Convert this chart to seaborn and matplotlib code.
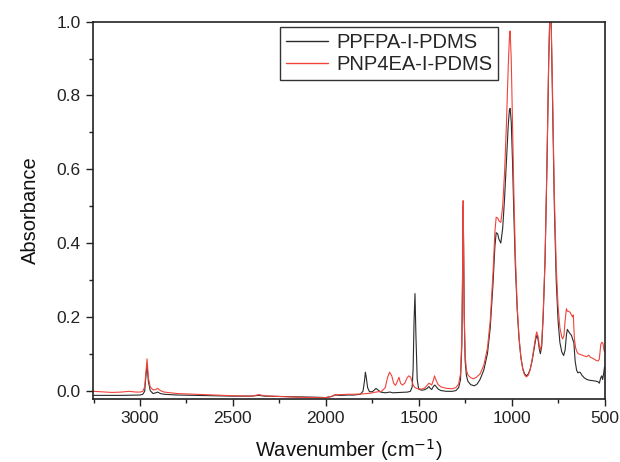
import matplotlib
matplotlib.use("Agg")
import matplotlib.pyplot as plt
import seaborn as sns
import pandas as pd
from matplotlib.ticker import MultipleLocator

# ---- data ----
wn_ppfpa = [3250, 3100, 3000, 2985, 2975, 2968, 2962, 2955, 2945, 2930, 2915, 2905, 2890, 2870,
            2800, 2700, 2600, 2500, 2400, 2360, 2330, 2250, 2150, 2050, 2000, 1970, 1950, 1920,
            1880, 1850, 1815, 1800, 1792, 1787, 1782, 1775, 1765, 1750, 1740, 1730, 1720, 1705,
            1680, 1655, 1640, 1600, 1560, 1545, 1535, 1530, 1525, 1520, 1515, 1508, 1500, 1485,
            1470, 1455, 1445, 1438, 1430, 1420, 1413, 1405, 1395, 1380, 1350, 1320, 1300, 1285,
            1275, 1268, 1264, 1261, 1258, 1255, 1250, 1243, 1235, 1220, 1200, 1185, 1170, 1150,
            1130, 1115, 1100, 1090, 1083, 1075, 1068, 1058, 1048, 1038, 1028, 1018, 1012, 1008,
            1002, 995, 988, 980, 970, 960, 950, 940, 930, 920, 910, 900, 890, 880, 870, 864, 858,
            850, 845, 838, 830, 820, 810, 800, 795, 791, 787, 780, 770, 760, 750, 740, 730, 720,
            712, 705, 700, 693, 685, 678, 672, 665, 658, 650, 643, 636, 630, 622, 610, 595, 580,
            565, 550, 535, 528, 520, 515, 510, 505, 500]
abs_ppfpa = [-0.013, -0.013, -0.012, -0.010, -0.002, 0.040, 0.070, 0.025, 0.000, -0.008, -0.006,
             -0.004, -0.008, -0.010, -0.012, -0.013, -0.014, -0.015, -0.015, -0.013, -0.015,
             -0.016, -0.017, -0.018, -0.019, -0.016, -0.012, -0.013, -0.012, -0.012, -0.010,
             -0.002, 0.025, 0.050, 0.035, 0.008, -0.003, -0.003, 0.001, 0.006, 0.002, -0.004,
             -0.006, -0.004, -0.006, -0.005, -0.004, -0.002, 0.010, 0.060, 0.190, 0.263, 0.150,
             0.030, 0.004, 0.001, 0.002, 0.006, 0.011, 0.006, 0.003, 0.012, 0.015, 0.010, 0.004,
             0.000, -0.002, -0.002, 0.000, 0.008, 0.030, 0.120, 0.300, 0.500, 0.380, 0.200,
             0.080, 0.040, 0.025, 0.016, 0.013, 0.018, 0.030, 0.055, 0.100, 0.170, 0.290, 0.390,
             0.428, 0.425, 0.410, 0.400, 0.440, 0.520, 0.620, 0.720, 0.760, 0.765, 0.730, 0.620,
             0.480, 0.340, 0.220, 0.140, 0.090, 0.060, 0.045, 0.040, 0.045, 0.058, 0.080, 0.110,
             0.140, 0.150, 0.140, 0.110, 0.100, 0.120, 0.200, 0.350, 0.600, 0.900, 1.000, 1.030,
             1.000, 0.800, 0.500, 0.300, 0.190, 0.130, 0.105, 0.095, 0.110, 0.150, 0.166, 0.160,
             0.154, 0.150, 0.140, 0.130, 0.080, 0.055, 0.048, 0.050, 0.049, 0.042, 0.035, 0.030,
             0.028, 0.027, 0.026, 0.024, 0.020, 0.035, 0.040, 0.030, 0.045, 0.064]

wn_pnp4ea = [3250, 3150, 3100, 3060, 3020, 3000, 2985, 2975, 2968, 2962, 2955, 2945, 2930, 2915,
             2905, 2890, 2870, 2800, 2700, 2600, 2500, 2400, 2360, 2330, 2250, 2150, 2050, 2000,
             1970, 1950, 1920, 1880, 1850, 1800, 1760, 1730, 1700, 1680, 1668, 1657, 1645, 1635,
             1625, 1615, 1606, 1598, 1588, 1575, 1562, 1553, 1543, 1530, 1520, 1505, 1485, 1470,
             1455, 1445, 1438, 1430, 1420, 1415, 1408, 1395, 1380, 1350, 1320, 1300, 1285, 1275,
             1268, 1264, 1261, 1258, 1255, 1250, 1243, 1235, 1220, 1206, 1190, 1170, 1150, 1130,
             1115, 1100, 1090, 1083, 1075, 1068, 1058, 1048, 1038, 1028, 1018, 1012, 1008, 1002,
             995, 988, 980, 970, 960, 950, 940, 930, 920, 910, 900, 890, 880, 870, 865, 858, 850,
             845, 838, 830, 820, 810, 800, 795, 791, 787, 780, 770, 760, 750, 740, 730, 725, 718,
             712, 705, 700, 693, 685, 678, 672, 668, 662, 655, 648, 641, 630, 620, 610, 595, 585,
             575, 565, 555, 545, 535, 528, 520, 514, 508, 503, 500]
abs_pnp4ea = [-0.002, -0.005, -0.004, -0.002, -0.004, -0.004, -0.002, 0.010, 0.050, 0.086, 0.035,
              0.010, 0.002, 0.003, 0.006, 0.000, -0.004, -0.008, -0.010, -0.012, -0.014, -0.015,
              -0.011, -0.014, -0.016, -0.018, -0.019, -0.019, -0.016, -0.011, -0.011, -0.010,
              -0.010, -0.009, -0.007, -0.004, -0.002, 0.008, 0.035, 0.050, 0.040, 0.020, 0.014,
              0.025, 0.036, 0.020, 0.015, 0.020, 0.035, 0.040, 0.036, 0.015, 0.008, 0.005, 0.004,
              0.006, 0.014, 0.020, 0.018, 0.015, 0.030, 0.040, 0.030, 0.016, 0.010, 0.006, 0.005,
              0.008, 0.018, 0.045, 0.140, 0.320, 0.515, 0.390, 0.210, 0.095, 0.055, 0.042, 0.035,
              0.032, 0.036, 0.045, 0.068, 0.115, 0.190, 0.320, 0.430, 0.470, 0.468, 0.460, 0.456,
              0.500, 0.590, 0.720, 0.880, 0.955, 0.975, 0.900, 0.720, 0.540, 0.370, 0.230, 0.145,
              0.090, 0.058, 0.042, 0.037, 0.042, 0.057, 0.082, 0.115, 0.148, 0.159, 0.148, 0.118,
              0.109, 0.128, 0.210, 0.360, 0.610, 0.910, 1.000, 1.030, 1.000, 0.820, 0.530, 0.340,
              0.230, 0.170, 0.145, 0.140, 0.150, 0.190, 0.222, 0.215, 0.215, 0.212, 0.205, 0.200,
              0.205, 0.140, 0.115, 0.105, 0.100, 0.098, 0.096, 0.094, 0.092, 0.096, 0.090, 0.088,
              0.085, 0.082, 0.080, 0.085, 0.125, 0.131, 0.128, 0.110, 0.106]

series_names = ["PPFPA-I-PDMS", "PNP4EA-I-PDMS"]
x_ticks = [3000, 2500, 2000, 1500, 1000, 500]
y_ticks = [0.0, 0.2, 0.4, 0.6, 0.8, 1.0]

df = pd.concat([
    pd.DataFrame({"wn": wn_ppfpa, "A": abs_ppfpa, "sample": series_names[0]}),
    pd.DataFrame({"wn": wn_pnp4ea, "A": abs_pnp4ea, "sample": series_names[1]}),
], ignore_index=True)

sns.set_theme(style="ticks")
plt.rcParams["font.family"] = ["Liberation Sans", "DejaVu Sans"]

fig = plt.figure(figsize=(6.2, 4.62), dpi=100)
ax = fig.add_axes([0.150, 0.137, 0.825, 0.816])

sns.lineplot(data=df, x="wn", y="A", hue="sample", hue_order=series_names,
             palette={series_names[0]: "#2b2b2b", series_names[1]: "#f0443a"},
             estimator=None, sort=True, linewidth=0.8, ax=ax, legend=True)

ax.set_xlim(3253, 500)
ax.set_ylim(-0.022, 1.0)
ax.set_xticks(x_ticks)
ax.set_yticks(y_ticks)
ax.set_yticklabels([f"{v:.1f}" for v in y_ticks])
ax.xaxis.set_minor_locator(MultipleLocator(250))
ax.yaxis.set_minor_locator(MultipleLocator(0.1))
ax.tick_params(axis="both", which="major", direction="out", length=5, width=1,
               labelsize=12.5, colors="#222222", pad=4)
ax.tick_params(axis="both", which="minor", direction="out", length=3, width=1, colors="#222222")
for s in ax.spines.values():
    s.set_visible(True)
    s.set_linewidth(1.2)
    s.set_color("#222222")

ax.set_xlabel("Wavenumber (cm$^{-1}$)", fontsize=14.5, labelpad=8, color="#111111")
ax.set_ylabel("Absorbance", fontsize=14.5, labelpad=12, color="#111111")

leg = ax.legend(loc="upper left", bbox_to_anchor=(0.451, 0.942), bbox_transform=fig.transFigure,
                borderaxespad=0, fontsize=14.5, frameon=True, fancybox=False, framealpha=1,
                edgecolor="#333333", handlelength=2.1, handletextpad=0.4, labelspacing=0.15,
                borderpad=0.3)
leg.get_frame().set_linewidth(1.0)
for line in leg.get_lines():
    line.set_linewidth(1.0)

fig.savefig("out.png", dpi=100)
